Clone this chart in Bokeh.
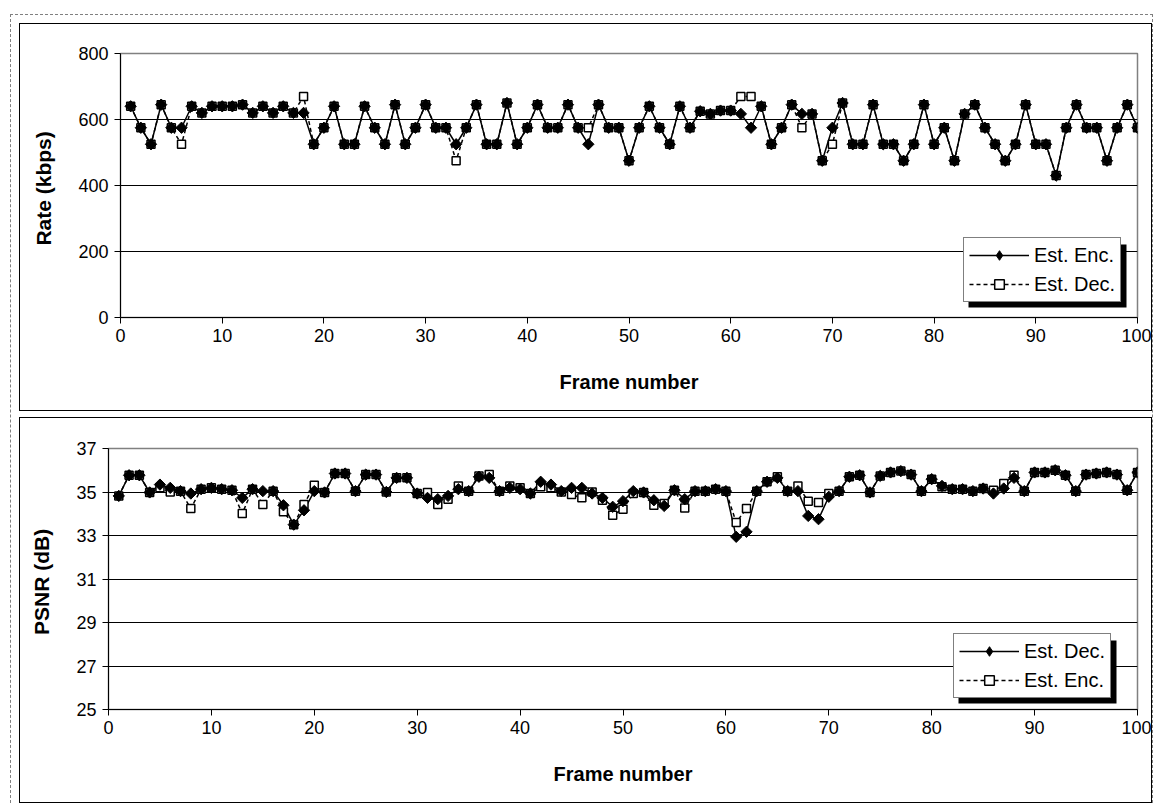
import numpy as np
from bokeh.plotting import figure
from bokeh.layouts import column, row
from bokeh.models import Range1d, Legend, LegendItem, BoxAnnotation, FixedTicker, Spacer
from bokeh.embed import file_html
from bokeh.resources import INLINE

# ---------------- data ----------------
frames = list(range(1, 101))

rate_enc = [640, 575, 525, 645, 575, 575, 640, 620, 640, 640,
            640, 645, 620, 640, 620, 640, 620, 620, 525, 575,
            640, 525, 525, 640, 575, 525, 645, 525, 575, 645,
            575, 575, 525, 575, 645, 525, 525, 650, 525, 575,
            645, 575, 575, 645, 575, 525, 645, 575, 575, 475,
            575, 640, 575, 525, 640, 575, 625, 617, 627, 627,
            617, 575, 640, 525, 575, 645, 617, 617, 475, 575,
            650, 525, 525, 645, 525, 525, 475, 525, 645, 525,
            575, 475, 617, 645, 575, 525, 475, 525, 645, 525,
            525, 430, 575, 645, 575, 575, 475, 575, 645, 575]

rate_dec = [640, 575, 525, 645, 575, 525, 640, 620, 640, 640,
            640, 645, 620, 640, 620, 640, 620, 670, 525, 575,
            640, 525, 525, 640, 575, 525, 645, 525, 575, 645,
            575, 575, 475, 575, 645, 525, 525, 650, 525, 575,
            645, 575, 575, 645, 575, 575, 645, 575, 575, 475,
            575, 640, 575, 525, 640, 575, 625, 617, 627, 627,
            670, 670, 640, 525, 575, 645, 575, 617, 475, 525,
            650, 525, 525, 645, 525, 525, 475, 525, 645, 525,
            575, 475, 617, 645, 575, 525, 475, 525, 645, 525,
            525, 430, 575, 645, 575, 575, 475, 575, 645, 575]

psnr_dec = [34.82, 35.77, 35.77, 34.98, 35.34, 35.19, 35.04, 34.93, 35.13, 35.19,
            35.13, 35.08, 34.73, 35.13, 35.04, 35.04, 34.39, 33.50, 34.16, 35.04,
            34.98, 35.85, 35.85, 35.04, 35.80, 35.80, 35.00, 35.65, 35.65, 34.93,
            34.73, 34.67, 34.82, 35.13, 35.04, 35.70, 35.65, 35.04, 35.19, 35.13,
            34.93, 35.47, 35.34, 35.04, 35.19, 35.19, 34.93, 34.73, 34.32, 34.58,
            35.04, 34.98, 34.62, 34.36, 35.08, 34.67, 35.04, 35.04, 35.13, 35.04,
            32.94, 33.17, 35.04, 35.47, 35.65, 35.04, 35.04, 33.90, 33.75, 34.78,
            35.04, 35.70, 35.77, 34.98, 35.74, 35.90, 35.96, 35.80, 35.04, 35.59,
            35.28, 35.13, 35.13, 35.04, 35.16, 34.93, 35.16, 35.65, 35.04, 35.90,
            35.90, 36.00, 35.77, 35.04, 35.80, 35.85, 35.90, 35.80, 35.08, 35.90]

psnr_enc = [34.82, 35.77, 35.77, 34.98, 35.19, 35.00, 35.04, 34.24, 35.13, 35.19,
            35.13, 35.08, 34.01, 35.13, 34.43, 35.04, 34.09, 33.50, 34.43, 35.31,
            34.98, 35.85, 35.85, 35.04, 35.80, 35.80, 35.00, 35.65, 35.65, 34.93,
            34.98, 34.43, 34.67, 35.28, 35.04, 35.74, 35.80, 35.04, 35.28, 35.19,
            34.93, 35.24, 35.19, 35.00, 34.88, 34.73, 35.00, 34.62, 33.93, 34.21,
            34.93, 34.98, 34.39, 34.47, 35.08, 34.27, 35.04, 35.04, 35.13, 35.04,
            33.60, 34.24, 35.04, 35.47, 35.70, 35.04, 35.28, 34.58, 34.52, 34.93,
            35.04, 35.70, 35.77, 34.98, 35.74, 35.90, 35.96, 35.80, 35.04, 35.59,
            35.24, 35.13, 35.13, 35.04, 35.16, 35.08, 35.39, 35.77, 35.04, 35.90,
            35.90, 36.00, 35.77, 35.04, 35.80, 35.85, 35.90, 35.80, 35.08, 35.90]

x_ticks = list(range(0, 101, 10))
rate_ticks = [0, 200, 400, 600, 800]
psnr_ticks = [25, 27, 29, 31, 33, 35, 37]

FONT = "Liberation Sans"


def make_chart(height, left, top, bottom, y_lo, y_hi, y_ticks, y_label,
               solid_vals, dashed_vals, solid_name, dashed_name, legend_px):
    width, right = 1133, 16
    p = figure(width=width, height=height,
               x_range=Range1d(0, 100), y_range=Range1d(y_lo, y_hi),
               output_backend="svg", toolbar_location=None,
               min_border_left=left, min_border_right=right,
               min_border_top=top, min_border_bottom=bottom)
    p.styles = {"border": "1px solid black"}
    p.background_fill_color = "white"
    p.border_fill_color = "white"
    p.outline_line_color = "#808080"
    p.outline_line_width = 1.5

    p.xgrid.visible = False
    p.ygrid.ticker = FixedTicker(ticks=y_ticks)
    p.ygrid.grid_line_color = "black"
    p.ygrid.grid_line_width = 1

    p.xaxis.ticker = FixedTicker(ticks=x_ticks)
    p.yaxis.ticker = FixedTicker(ticks=y_ticks)
    for ax in (p.xaxis, p.yaxis):
        ax.axis_line_color = "black"
        ax.axis_line_width = 1
        ax.major_tick_in = 0
        ax.major_tick_out = 6
        ax.major_tick_line_color = "black"
        ax.minor_tick_in = 0
        ax.minor_tick_out = 0
        ax.major_label_text_font = FONT
        ax.major_label_text_font_size = "18px"
        ax.major_label_text_color = "black"
        ax.axis_label_text_font = FONT
        ax.axis_label_text_font_size = "20px"
        ax.axis_label_text_font_style = "bold"
        ax.axis_label_text_color = "black"
    p.yaxis.axis_label_text_font_size = "21px"
    p.xaxis.axis_label = "Frame number"
    p.xaxis.axis_label_standoff = 26
    p.xaxis.major_label_standoff = 5
    p.yaxis.axis_label = y_label
    p.yaxis.axis_label_standoff = 20
    p.yaxis.major_label_standoff = 6

    l_dash = p.line(frames, dashed_vals, line_color="black", line_width=1.5,
                    line_dash="4 3")
    l_solid = p.line(frames, solid_vals, line_color="black", line_width=1.5)
    s_dash = p.scatter(frames, dashed_vals, marker="square", size=8,
                       fill_color="white", line_color="black", line_width=1.5)
    p.scatter(frames, solid_vals, marker="square", angle=np.pi / 4,
              size=8, fill_color="black", line_color="black", line_width=1)
    # legend-only diamond glyph (hidden on the plot)
    leg_diamond = p.scatter(frames[:1], solid_vals[:1], marker="diamond",
                            size=10, fill_color="black", line_color="black")
    leg_diamond.visible = False

    # legend with drop shadow
    fw = width - left - right
    fh = height - top - bottom
    lx, ly = legend_px
    lw, lh = 158, 63
    sh = 5
    to_x = lambda px: px / fw * 100.0
    to_y = lambda py: y_lo + py / fh * (y_hi - y_lo)
    shadow = BoxAnnotation(left=to_x(lx + sh), right=to_x(lx + lw + sh),
                           bottom=to_y(ly - sh), top=to_y(ly + lh - sh),
                           fill_color="black", fill_alpha=1.0,
                           line_color=None)
    p.add_layout(shadow)

    legend = Legend(items=[LegendItem(label=solid_name, renderers=[l_solid, leg_diamond]),
                           LegendItem(label=dashed_name, renderers=[l_dash, s_dash])],
                    location=(lx, ly), margin=0, padding=5, spacing=5,
                    glyph_width=60, glyph_height=24, label_height=24,
                    label_standoff=5, label_text_font=FONT,
                    label_text_font_size="20px", label_text_color="black",
                    border_line_color="black", border_line_width=1,
                    background_fill_color="white", background_fill_alpha=1.0)
    p.add_layout(legend)
    return p


p1 = make_chart(388, 100, 29, 95, 0, 800, rate_ticks, "Rate  (kbps)",
                rate_enc, rate_dec, "Est. Enc.", "Est. Dec.", (843, 15))
p2 = make_chart(386, 88, 30, 95, 25, 37, psnr_ticks, "PSNR  (dB)",
                psnr_dec, psnr_enc, "Est. Dec.", "Est. Enc.", (845, 11))

inner = column(Spacer(height=8, width=8),
               row(Spacer(width=8, height=10), p1),
               Spacer(height=6, width=8),
               row(Spacer(width=8, height=10), p2),
               styles={"border": "1px dashed #808080", "border-bottom": "none"})
layout = column(Spacer(height=14, width=10), row(Spacer(width=10, height=10), inner))

open("out.html", "w").write(file_html(layout, INLINE))
